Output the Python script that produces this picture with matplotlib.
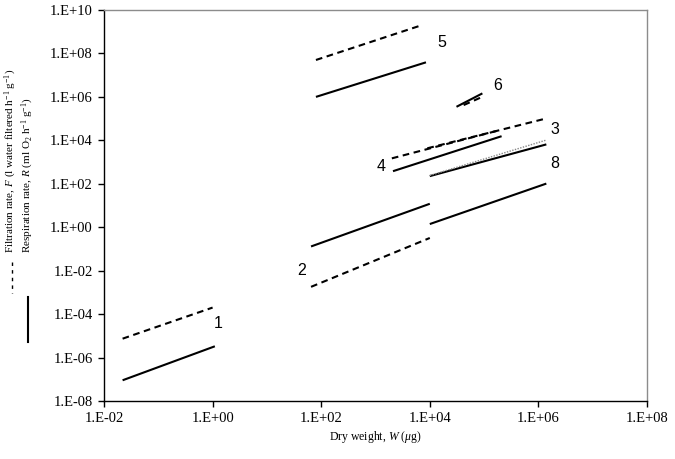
import numpy as np
import matplotlib
matplotlib.use("Agg")
import matplotlib.pyplot as plt
from matplotlib.lines import Line2D

# -------------------------
# Data
# -------------------------
# respiration rate R, solid lines: start/end dry weight and rate
resp_group = ['1', '2', '3', '4', '5', '6', '8']
resp_w0 = [0.022, 65, 1e4, 2100, 80, 3.1e4, 1e4]
resp_w1 = [1.1, 1e4, 1.4e6, 2.1e5, 8500, 9.3e4, 1.4e6]
resp_r0 = [9e-8, 0.13, 225, 380, 1e6, 3.5e5, 1.4]
resp_r1 = [3.3e-6, 12, 6500, 1.55e4, 3.9e7, 1.45e6, 102]

# filtration rate F, dashed lines
filt_group = ['1', '2', '3', '4', '5', '6']
filt_w0 = [0.022, 65, 9e3, 2000, 80, 4.2e4]
filt_w1 = [1.0, 1e4, 1.4e6, 1.95e5, 7100, 8.9e4]
filt_f0 = [7.4e-6, 1.8e-3, 4300, 1480, 5e7, 4.2e5]
filt_f1 = [2e-4, 0.32, 1.02e5, 2.96e4, 2e9, 9.6e5]

# thin dotted line next to group 3/8
dot_w = [1e4, 1.4e6]
dot_r = [240, 1.03e4]

# group numbers
label_text = ['1', '2', '3', '4', '5', '6', '8']
label_w = [1.26, 43, 2e6, 1290, 1.66e4, 1.8e5, 2e6]
label_y = [3.8e-5, 0.0105, 3e4, 650, 3.1e8, 3.2e6, 890]

x_ticks = [1e-2, 1e0, 1e2, 1e4, 1e6, 1e8]
y_ticks = [1e-8, 1e-6, 1e-4, 1e-2, 1e0, 1e2, 1e4, 1e6, 1e8, 1e10]


def excel_sci(v):
    return "1.E%+03d" % int(round(np.log10(v)))


# -------------------------
# Figure
# -------------------------
plt.rcParams['mathtext.fontset'] = 'custom'
plt.rcParams['mathtext.rm'] = 'Liberation Serif'
plt.rcParams['mathtext.it'] = 'Liberation Serif:italic'

W, H = 675, 459
fig = plt.figure(figsize=(W / 100, H / 100), dpi=100)
ax = fig.add_axes([104 / W, 1 - 401 / H, (647 - 104) / W, (401 - 10) / H])

for i in range(len(resp_group)):
    ax.plot([resp_w0[i], resp_w1[i]], [resp_r0[i], resp_r1[i]],
            color='black', lw=1.5, solid_capstyle='butt')

for i in range(len(filt_group)):
    ax.plot([filt_w0[i], filt_w1[i]], [filt_f0[i], filt_f1[i]],
            color='black', lw=1.5, dashes=(3.2, 2.2))

ax.plot(dot_w, dot_r, color='#888888', lw=1.0, linestyle=(0, (1, 1)))

for t, xw, yv in zip(label_text, label_w, label_y):
    ax.text(xw, yv, t, ha='center', va='center', fontsize=11.5,
            family='Liberation Sans')

ax.set_xscale('log')
ax.set_yscale('log')
ax.set_xlim(1e-2, 1e8)
ax.set_ylim(1e-8, 1e10)
ax.set_xticks(x_ticks)
ax.set_yticks(y_ticks)
ax.set_xticklabels([excel_sci(v) for v in x_ticks])
ax.set_yticklabels([excel_sci(v) for v in y_ticks])
ax.minorticks_off()
ax.tick_params(direction='out', length=4, width=1, color='black',
               labelsize=10.5, pad=4)
for lab in ax.get_xticklabels() + ax.get_yticklabels():
    lab.set_family('Liberation Serif')

ax.spines['left'].set_color('black')
ax.spines['bottom'].set_color('black')
ax.spines['top'].set_color('#8c8c8c')
ax.spines['right'].set_color('#8c8c8c')
for s in ax.spines.values():
    s.set_linewidth(1.0)

# axis titles
fig.text(375 / W, 1 - 437 / H, r"Dry weight, $W$ ($\mu$g)", ha='center',
         va='center', fontsize=8.5, family='Liberation Serif')
fig.text(11 / W, 1 - 253 / H,
         r"Filtration rate, $F$ (l water filtered h$^{\mathrm{-1}}$ g$^{\mathrm{-1}}$)",
         rotation=90, ha='center', va='bottom', fontsize=8,
         family='Liberation Serif')
fig.text(28 / W, 1 - 253 / H,
         r"Respiration rate, $R$ (ml O$_2$ h$^{\mathrm{-1}}$ g$^{\mathrm{-1}}$)",
         rotation=90, ha='center', va='bottom', fontsize=8,
         family='Liberation Serif')

# key marks in front of the axis titles
fig.add_artist(Line2D([12 / W, 12 / W], [1 - 262 / H, 1 - 293 / H],
                      color='black', lw=1.0, dashes=(2.5, 3.0),
                      transform=fig.transFigure))
fig.add_artist(Line2D([28 / W, 28 / W], [1 - 297 / H, 1 - 342 / H],
                      color='black', lw=1.5, transform=fig.transFigure))

fig.savefig("out.png", dpi=100)
